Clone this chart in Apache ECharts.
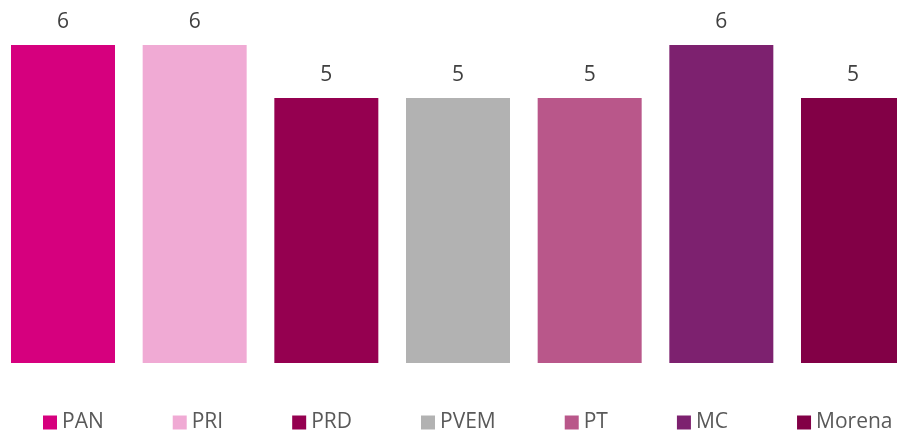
<!DOCTYPE html>
<html>
<head>
<meta charset="utf-8">
<script src="https://cdn.jsdelivr.net/npm/echarts@6/dist/echarts.min.js"></script>
<style>html,body{margin:0;padding:0;background:#fff}#c{width:897px;height:431px}</style>
</head>
<body>
<div id="c"></div>
<script>
var categories = ['PAN', 'PRI', 'PRD', 'PVEM', 'PT', 'MC', 'Morena'];
var values = [6, 6, 5, 5, 5, 6, 5];
var colors = ['#D6007E', '#F0AAD4', '#950050', '#B2B2B2', '#B9578A', '#7D216F', '#820046'];

var FONT = 'Open Sans';
var series = categories.map(function (name, i) {
  var data = categories.map(function (_, j) { return j === i ? values[i] : '-'; });
  return {
    name: name,
    type: 'bar',
    stack: 'all',
    data: data,
    barWidth: 104,
    clip: false,
    itemStyle: { color: colors[i] },
    label: {
      show: true,
      position: 'top',
      distance: 12,
      color: '#404040',
      fontFamily: FONT,
      fontSize: 21
    }
  };
});

var chart = echarts.init(document.getElementById('c'), null, { renderer: 'canvas' });
chart.setOption({
  animation: false,
  backgroundColor: '#ffffff',
  grid: { left: 63, right: 44, top: 45, bottom: 68 },
  xAxis: {
    type: 'category',
    data: categories,
    boundaryGap: false,
    show: false
  },
  yAxis: {
    type: 'value',
    min: 0,
    max: 6,
    show: false
  },
  legend: {
    data: categories,
    left: 43,
    top: 412,
    width: 860,
    padding: 0,
    itemWidth: 14,
    itemHeight: 14,
    itemGap: 69,
    icon: 'rect',
    textStyle: { color: '#595959', fontFamily: FONT, fontSize: 21 }
  },
  series: series
});
</script>
</body>
</html>
